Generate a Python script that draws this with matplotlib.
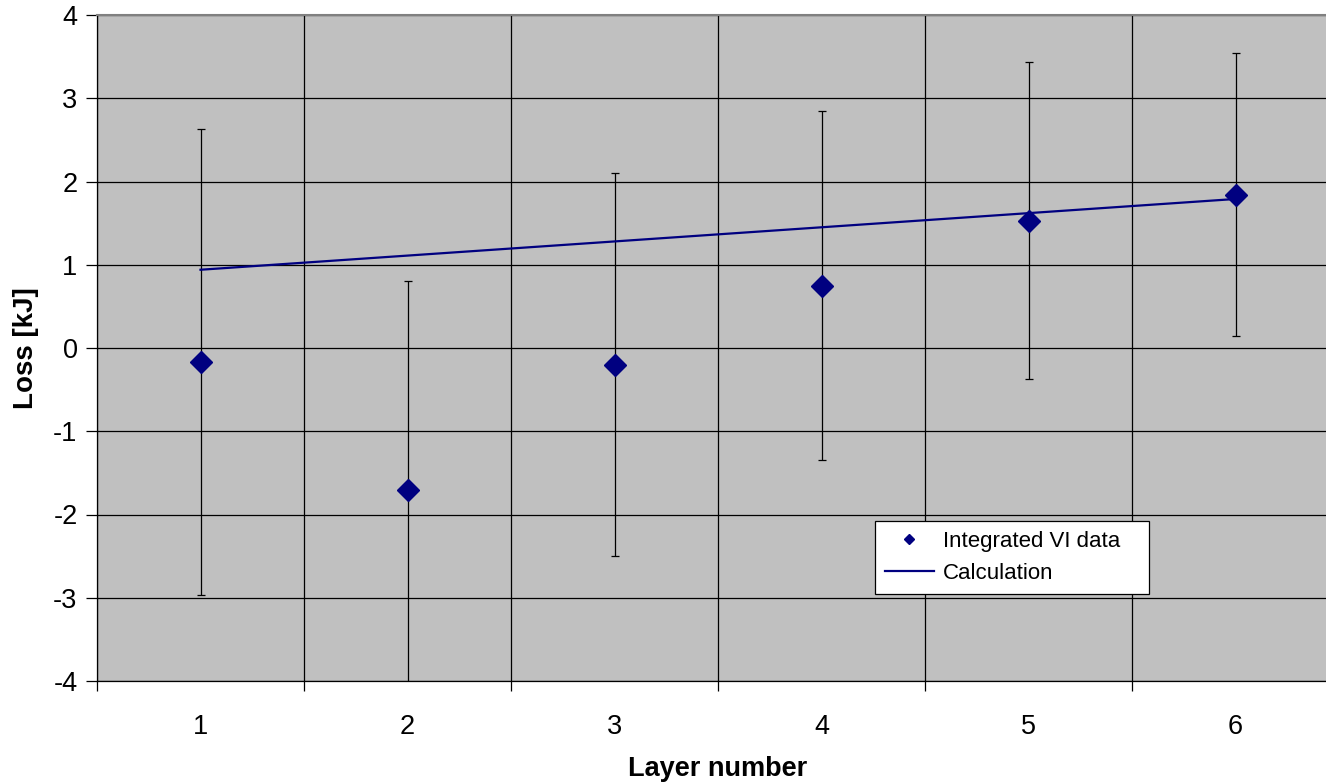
import numpy as np
import matplotlib
matplotlib.use("Agg")
import matplotlib.pyplot as plt
from matplotlib.lines import Line2D

plt.rcParams['font.family'] = ['Liberation Sans', 'DejaVu Sans']
plt.rcParams['axes.unicode_minus'] = False

layers = [1, 2, 3, 4, 5, 6]
vi_loss = [-0.17, -1.70, -0.20, 0.75, 1.53, 1.84]
vi_err = [2.80, 2.50, 2.30, 2.10, 1.90, 1.70]
calc_loss = [0.94, 1.11, 1.28, 1.45, 1.62, 1.79]

navy = '#000080'

fig = plt.figure(figsize=(13.26, 7.83), dpi=100)
ax = fig.add_axes([97 / 1326, 1 - 681 / 783, 1242 / 1326, 666 / 783])
ax.set_facecolor('#c0c0c0')

ax.errorbar(layers, vi_loss, yerr=vi_err, fmt='none', ecolor='black',
            elinewidth=0.9, capsize=3, capthick=0.9, zorder=3)
ax.plot(layers, calc_loss, color=navy, linewidth=1.6, zorder=4)
ax.plot(layers, vi_loss, linestyle='none', marker='D', markersize=11,
        color=navy, markeredgecolor=navy, zorder=5)

ax.set_xlim(0.5, 6.5)
ax.set_ylim(-4, 4)
ax.set_yticks(np.arange(-4, 5, 1))
ax.set_xticks(layers)
ax.set_xticks(np.arange(0.5, 7, 1), minor=True)
ax.tick_params(axis='x', which='major', length=0, pad=24, labelsize=19.5)
ax.tick_params(axis='x', which='minor', length=7, width=0.9, color='black')
ax.tick_params(axis='y', length=8, width=0.9, labelsize=19.5, pad=6)

ax.grid(True, axis='y', which='major', color='black', linewidth=0.9)
ax.grid(True, axis='x', which='minor', color='black', linewidth=0.9)
ax.set_axisbelow(True)

for side in ['top', 'right']:
    ax.spines[side].set_color('#808080')
    ax.spines[side].set_linewidth(1.5)
ax.spines['left'].set_linewidth(0.9)
ax.spines['bottom'].set_linewidth(0.9)

ax.set_xlabel('Layer number', fontsize=19.5, fontweight='bold', labelpad=11)
ax.set_ylabel('Loss [kJ]', fontsize=20, fontweight='bold', labelpad=10)

handles = [
    Line2D([], [], linestyle='none', marker='D', markersize=5, color=navy),
    Line2D([], [], color=navy, linewidth=1.6),
]
leg = fig.legend(handles, ['Integrated VI data', 'Calculation'],
                 loc='upper left',
                 bbox_to_anchor=(875 / 1326, 1 - 596 / 783, 274 / 1326, 75 / 783),
                 mode='expand', fontsize=16, frameon=True, fancybox=False,
                 framealpha=1, edgecolor='black', borderpad=0.45,
                 handlelength=2.2, handletextpad=0.4, labelspacing=0.5,
                 borderaxespad=0)
leg.get_frame().set_linewidth(0.9)

fig.savefig('out.png', dpi=100)
